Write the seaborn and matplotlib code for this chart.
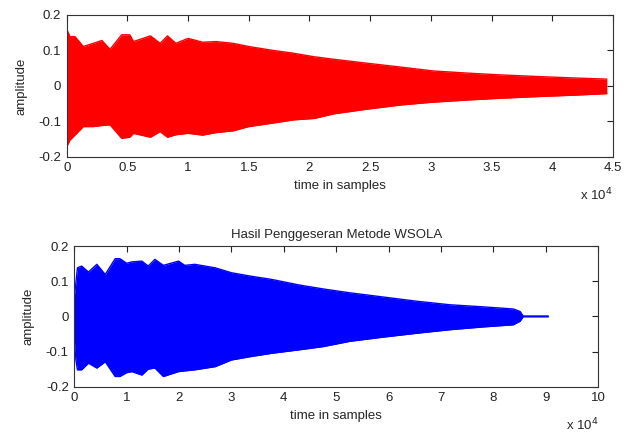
import numpy as np
import seaborn as sns
import matplotlib.pyplot as plt

# envelope of the original signal (x in units of 1e4 samples)
orig_t = [0.0, 0.027, 0.068, 0.137, 0.22, 0.29, 0.357, 0.453, 0.52, 0.55, 0.69, 0.77,
          0.83, 0.90, 1.0, 1.12, 1.23, 1.37, 1.5, 1.68, 1.87, 2.04, 2.2, 2.47, 2.75,
          3.02, 3.3, 3.57, 3.9, 4.2, 4.45]
orig_upper = [0.16, 0.139, 0.139, 0.111, 0.12, 0.128, 0.103, 0.144, 0.144, 0.125, 0.141, 0.12,
              0.141, 0.12, 0.134, 0.123, 0.125, 0.12, 0.111, 0.101, 0.092, 0.082, 0.075, 0.064, 0.053,
              0.042, 0.036, 0.031, 0.026, 0.022, 0.019]
orig_lower = [-0.172, -0.153, -0.139, -0.115, -0.115, -0.112, -0.11, -0.148, -0.145, -0.134, -0.145, -0.129,
              -0.145, -0.138, -0.134, -0.139, -0.132, -0.127, -0.115, -0.106, -0.096, -0.092, -0.079, -0.066, -0.054,
              -0.046, -0.040, -0.035, -0.030, -0.026, -0.022]

# envelope of the WSOLA result
wsola_t = [0.0, 0.03, 0.06, 0.14, 0.27, 0.43, 0.59, 0.78, 0.87, 1.0, 1.1, 1.29, 1.41, 1.54,
           1.7, 1.99, 2.11, 2.3, 2.69, 3.0, 3.38, 3.77, 4.3, 4.75, 5.26, 5.9, 6.54, 7.17,
           7.81, 8.38, 8.51, 8.57, 9.05]
wsola_upper = [0.057, 0.095, 0.138, 0.143, 0.126, 0.148, 0.119, 0.164, 0.164, 0.151, 0.155, 0.157, 0.143, 0.162,
               0.145, 0.157, 0.145, 0.148, 0.138, 0.124, 0.114, 0.105, 0.089, 0.078, 0.067, 0.055, 0.043, 0.033,
               0.027, 0.021, 0.014, 0.001, 0.001]
wsola_lower = [-0.067, -0.124, -0.152, -0.152, -0.133, -0.147, -0.129, -0.171, -0.171, -0.160, -0.157, -0.167, -0.150, -0.147,
               -0.171, -0.157, -0.155, -0.152, -0.143, -0.124, -0.114, -0.105, -0.095, -0.086, -0.071, -0.059, -0.048, -0.038,
               -0.030, -0.024, -0.014, -0.001, -0.001]

sns.set_style("white")
plt.rcParams["font.family"] = ["Liberation Sans", "DejaVu Sans"]
plt.rcParams["font.size"] = 9.5

fig = plt.figure(figsize=(6.25, 4.37), dpi=100)
ax1 = fig.add_axes([0.1067, 0.6414, 0.874, 0.3243])
ax2 = fig.add_axes([0.1189, 0.1151, 0.838, 0.3219])


def draw(ax, t, up, lo, color, xmax, xticks, xticklabels):
    sns.lineplot(x=t, y=up, ax=ax, color=color, linewidth=1)
    sns.lineplot(x=t, y=lo, ax=ax, color=color, linewidth=1)
    ax.fill_between(t, lo, up, color=color, linewidth=0)
    ax.set_xlim(0, xmax)
    ax.set_ylim(-0.2, 0.2)
    ax.set_xticks(xticks)
    ax.set_xticklabels(xticklabels)
    ax.set_yticks([-0.2, -0.1, 0, 0.1, 0.2])
    ax.set_yticklabels(["-0.2", "-0.1", "0", "0.1", "0.2"])
    ax.tick_params(direction="in", length=4, width=0.8, top=True, right=True,
                   labelsize=9.5, colors="#222222", pad=4)
    for s in ax.spines.values():
        s.set_color("#333333")
        s.set_linewidth(0.8)
    ax.set_xlabel("time in samples", fontsize=9.5, labelpad=4)
    ax.set_ylabel("amplitude", fontsize=9.5, labelpad=8)
    ax.text(1.0, -0.21, "x 10$^{4}$", transform=ax.transAxes, ha="right", va="top",
            fontsize=9.5)


draw(ax1, orig_t, orig_upper, orig_lower, "#ff0000", 4.5,
     np.arange(0, 4.51, 0.5), ["0", "0.5", "1", "1.5", "2", "2.5", "3", "3.5", "4", "4.5"])
draw(ax2, wsola_t, wsola_upper, wsola_lower, "#0000ff", 10,
     np.arange(0, 11, 1), [str(i) for i in range(11)])
ax2.set_title("Hasil Penggeseran Metode WSOLA", fontsize=9.5, pad=6)

fig.savefig("out.png", dpi=100)
